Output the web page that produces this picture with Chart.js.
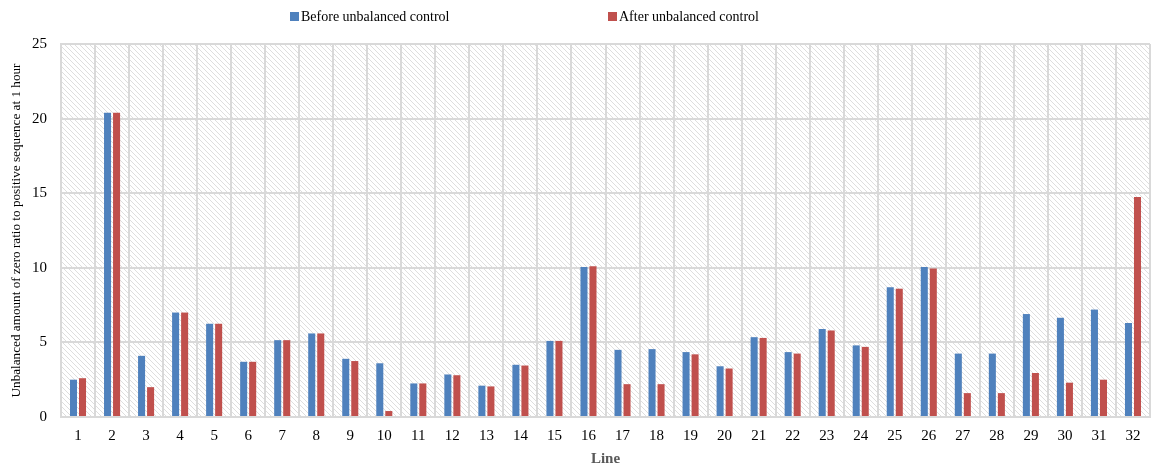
<!DOCTYPE html>
<html>
<head>
<meta charset="utf-8">
<script src="https://cdn.jsdelivr.net/npm/chart.js@4"></script>
<style>
  html, body { margin: 0; padding: 0; background: #fff; }
  #wrap { position: relative; width: 1154px; height: 470px; }
  .legend { position: absolute; top: 9px; font: 14px "Liberation Serif", serif; color: #000; }
  .legend span { display: inline-block; width: 9px; height: 9px; margin-right: 2px; }
</style>
</head>
<body>
<div id="wrap">
  <canvas id="chart" width="1154" height="470"></canvas>
  <div class="legend" style="left:290px"><span style="background:#4f81bd"></span>Before unbalanced control</div>
  <div class="legend" style="left:608px"><span style="background:#c0504d"></span>After unbalanced control</div>
</div>
<script>
// Line numbers 1..32
const lines = ['1','2','3','4','5','6','7','8','9','10','11','12','13','14','15','16',
  '17','18','19','20','21','22','23','24','25','26','27','28','29','30','31','32'];

// Unbalance values
const beforeValues = [2.5, 20.4, 4.1, 7.0, 6.25, 3.7, 5.15, 5.6, 3.9, 3.6, 2.25, 2.85, 2.1, 3.5, 5.1, 10.05,
  4.5, 4.55, 4.35, 3.4, 5.35, 4.35, 5.9, 4.8, 8.7, 10.05, 4.25, 4.25, 6.9, 6.65, 7.2, 6.3];
const afterValues = [2.6, 20.4, 2.0, 7.0, 6.25, 3.7, 5.15, 5.6, 3.75, 0.4, 2.25, 2.8, 2.05, 3.45, 5.1, 10.1,
  2.2, 2.2, 4.2, 3.25, 5.3, 4.25, 5.8, 4.7, 8.6, 9.95, 1.6, 1.6, 2.95, 2.3, 2.5, 14.75];

const yTicks = [0, 5, 10, 15, 20, 25];

// Hatched plot background
function makeHatch() {
  const c = document.createElement('canvas');
  c.width = 5; c.height = 5;
  const g = c.getContext('2d');
  g.fillStyle = '#fff';
  g.fillRect(0, 0, 5, 5);
  g.strokeStyle = '#dedede';
  g.lineWidth = 1;
  g.beginPath();
  g.moveTo(-1, -1); g.lineTo(6, 6);
  g.moveTo(-1, 4); g.lineTo(1, 6);
  g.moveTo(4, -1); g.lineTo(6, 1);
  g.stroke();
  return c;
}

const hatchPlugin = {
  id: 'hatch',
  beforeDraw(chart) {
    const { ctx, chartArea: a } = chart;
    ctx.save();
    ctx.fillStyle = ctx.createPattern(makeHatch(), 'repeat');
    ctx.fillRect(a.left, a.top, a.right - a.left, a.bottom - a.top);
    ctx.restore();
  }
};

new Chart(document.getElementById('chart'), {
  type: 'bar',
  data: {
    labels: lines,
    datasets: [{
      label: 'Before unbalanced control',
      data: beforeValues,
      backgroundColor: '#4f81bd',
      barPercentage: 0.78,
      categoryPercentage: 0.53
    }, {
      label: 'After unbalanced control',
      data: afterValues,
      backgroundColor: '#c0504d',
      barPercentage: 0.78,
      categoryPercentage: 0.53
    }]
  },
  options: {
    responsive: false,
    animation: false,
    layout: { padding: { top: 44, right: 4, left: 10, bottom: 3 } },
    plugins: {
      legend: { display: false },
      tooltip: { enabled: false }
    },
    scales: {
      x: {
        afterFit(axis) { axis.height = 50; },
        grid: { color: '#d9d9d9', lineWidth: 2, drawTicks: false, offset: true },
        border: { color: '#d9d9d9', width: 2 },
        ticks: { color: '#000', font: { family: 'Liberation Serif', size: 15, lineHeight: 1 }, padding: 12 },
        title: { display: true, text: 'Line', color: '#595959', font: { family: 'Liberation Serif', size: 15, weight: 'bold', lineHeight: 1 }, padding: { top: 0, bottom: 0 } }
      },
      y: {
        min: 0,
        max: 25,
        afterBuildTicks(axis) { axis.ticks = yTicks.map(v => ({ value: v })); },
        afterFit(axis) { axis.width = 51; },
        grid: { color: '#d9d9d9', lineWidth: 2, drawTicks: false },
        border: { color: '#d9d9d9', width: 2 },
        ticks: { color: '#000', font: { family: 'Liberation Serif', size: 15 }, padding: 14 },
        title: { display: true, text: 'Unbalanced amount of zero ratio to positive sequence at 1 hour', color: '#000', font: { family: 'Liberation Serif', size: 13.2, lineHeight: 1 }, padding: { top: 0, bottom: 0 } }
      }
    }
  },
  plugins: [hatchPlugin]
});
</script>
</body>
</html>
